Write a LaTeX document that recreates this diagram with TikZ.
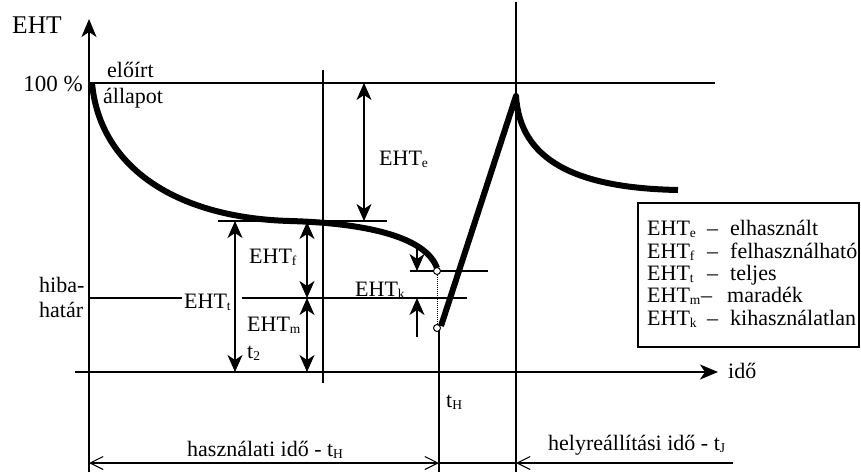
\documentclass[tikz,border=0pt]{standalone}
\usepackage{fontspec}
\setmainfont{Liberation Serif}
\usetikzlibrary{arrows.meta}
\newcommand{\sbs}[1]{\raisebox{-2.5pt}{\fontsize{13.5}{14}\selectfont #1}}
\begin{document}
\begin{tikzpicture}[x=1pt,y=-1pt,
  lbl/.style={font=\fontsize{22}{24}\selectfont, inner sep=0pt, anchor=base west},
  lnthin/.style={line width=1.2pt},
  axisln/.style={line width=2pt, -{Stealth[length=18pt,width=15pt,inset=5pt]}},
  dblarr/.style={line width=1.2pt, {Stealth[length=17pt,width=15pt,inset=5pt]}-{Stealth[length=17pt,width=15pt,inset=5pt]}},
  sglarr/.style={line width=1.2pt, -{Stealth[length=17pt,width=15pt,inset=5pt]}},
  curveln/.style={line width=6pt, line join=round},
  dimln/.style={line width=1.1pt},
  barb/.tip={Straight Barb[length=13pt,width=13pt]},
  dot/.style={circle, draw, fill=white, line width=1pt, minimum size=7pt, inner sep=0pt}]
\useasboundingbox (0,0) rectangle (861,472);
\fill[white] (0,0) rectangle (861,472);
% reference lines
\draw[lnthin] (89,83) -- (715,83);
\draw[lnthin] (89,298) -- (182,298);
\draw[lnthin] (242,298) -- (467,298);
\draw[lnthin] (218,221) -- (387,221);
\draw[lnthin] (410,271) -- (488,271);
\draw[lnthin] (323,70) -- (323,383);
\draw[lnthin] (516,2) -- (516,472);
\draw[lnthin] (439,328) -- (439,472);
% axes
\draw[axisln] (89,472) -- (89,19);
\draw[axisln] (75,372) -- (718,372);
% curves
\draw[curveln] (92,83) .. controls (100,170) and (180,218) .. (290,221)
   .. controls (360,223) and (425,235) .. (437,268);
\draw[curveln] (441,326) -- (516,96) .. controls (520,160) and (575,188) .. (678,190);
% circles and dotted link
\node[dot] (c1) at (437,271) {};
\node[dot] (c2) at (437,328) {};
\draw[densely dotted, line width=1pt] (c1) -- (c2);
% dimension arrows
\draw[dblarr] (364,83) -- (364,221);
\draw[dblarr] (235,221) -- (235,372);
\draw[dblarr] (307,222) -- (307,298);
\draw[dblarr] (307,298) -- (307,372);
\draw[sglarr] (417,247) -- (417,271);
\draw[sglarr] (417,337) -- (417,298);
% axis labels
\node[lbl, font=\fontsize{25.5}{28}\selectfont] (eht) at (12,33) {EHT};
\node[lbl, font=\fontsize{23}{26}\selectfont, anchor=base east] (p100) at (83,91) {100 \%};
\node[lbl] (eloirt) at (107,77) {előírt};
\node[lbl] (allapot) at (103,103) {állapot};
\node[lbl] (hiba) at (39,292) {hiba-};
\node[lbl] (hatar) at (39,317) {határ};
\node[lbl] (ido) at (728,378) {idő};
% arrow labels
\node[lbl] (lehte) at (379,165) {EHT\sbs{e}};
\node[lbl] (lehtt) at (184,308) {EHT\sbs{t}};
\node[lbl] (lt2) at (247,358) {t\sbs{2}};
\node[lbl] (lehtf) at (249,263) {EHT\sbs{f}};
\node[lbl] (lehtm) at (247,331) {EHT\sbs{m}};
\node[lbl] (lehtk) at (355,296) {EHT\sbs{k}};
\node[lbl] (lth) at (446,407) {t\sbs{H}};
% time dimension
\draw[dimln, barb-barb] (89,463) -- (439,463);
\draw[dimln] (439,463) -- (516,463);
\draw[dimln, barb-] (516,463) -- (733,463);
\node[lbl] (hasz) at (187,456) {használati idő - t\sbs{H}};
\node[lbl] (helyre) at (548,450) {helyreállítási idő - t\sbs{J}};
% legend
\draw[line width=2pt] (638,203) rectangle (859,347);
\node[lbl] (lg1) at (647,235) {\makebox[60pt][l]{EHT\sbs{e}}\makebox[23pt][l]{–}elhasznált};
\node[lbl] (lg2) at (647,258) {\makebox[60pt][l]{EHT\sbs{f}}\makebox[23pt][l]{–}felhasználható};
\node[lbl] (lg3) at (647,280) {\makebox[60pt][l]{EHT\sbs{t}}\makebox[23pt][l]{–}teljes};
\node[lbl] (lg4) at (647,302) {\makebox[54pt][l]{EHT\sbs{m}}\makebox[26pt][l]{–}maradék};
\node[lbl] (lg5) at (647,325) {\makebox[60pt][l]{EHT\sbs{k}}\makebox[23pt][l]{–}kihasználatlan};
\end{tikzpicture}
\end{document}
